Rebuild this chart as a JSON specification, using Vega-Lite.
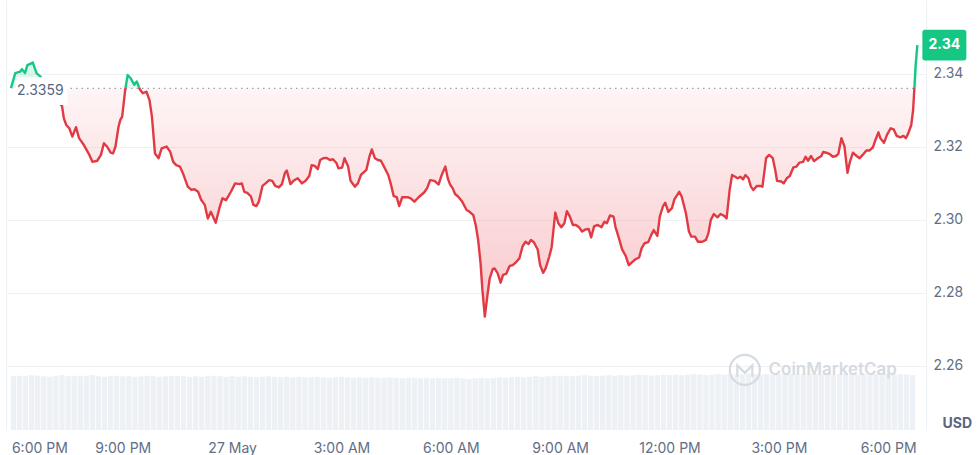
{
  "$schema": "https://vega.github.io/schema/vega-lite/v6.json",
  "width": 920,
  "height": 430,
  "autosize": {"type": "none"},
  "padding": {"left": 6, "top": 0, "right": 52, "bottom": 25},
  "background": "#ffffff",
  "config": {"view": {"stroke": null}, "font": "Inter"},
  "datasets": {
    "price": [
      {"t":"2024-05-26T17:56","p":2.3360},{"t":"2024-05-26T18:03","p":2.3401},{"t":"2024-05-26T18:11","p":2.3405},{"t":"2024-05-26T18:14","p":2.3412},{"t":"2024-05-26T18:19","p":2.3401},{"t":"2024-05-26T18:23","p":2.3423},{"t":"2024-05-26T18:32","p":2.3430},{"t":"2024-05-26T18:38","p":2.3401},{"t":"2024-05-26T18:45","p":2.3391},{"t":"2024-05-26T18:55","p":2.3360},{"t":"2024-05-26T19:08","p":2.3333},{"t":"2024-05-26T19:20","p":2.3311},{"t":"2024-05-26T19:23","p":2.3277},{"t":"2024-05-26T19:27","p":2.3259},{"t":"2024-05-26T19:32","p":2.3250},{"t":"2024-05-26T19:37","p":2.3227},{"t":"2024-05-26T19:43","p":2.3253},{"t":"2024-05-26T19:48","p":2.3223},{"t":"2024-05-26T19:56","p":2.3204},{"t":"2024-05-26T20:05","p":2.3177},{"t":"2024-05-26T20:10","p":2.3158},{"t":"2024-05-26T20:18","p":2.3161},{"t":"2024-05-26T20:24","p":2.3177},{"t":"2024-05-26T20:29","p":2.3209},{"t":"2024-05-26T20:34","p":2.3200},{"t":"2024-05-26T20:40","p":2.3183},{"t":"2024-05-26T20:44","p":2.3181},{"t":"2024-05-26T20:48","p":2.3200},{"t":"2024-05-26T20:53","p":2.3254},{"t":"2024-05-26T20:56","p":2.3273},{"t":"2024-05-26T20:59","p":2.3282},{"t":"2024-05-26T21:04","p":2.3355},{"t":"2024-05-26T21:08","p":2.3396},{"t":"2024-05-26T21:13","p":2.3387},{"t":"2024-05-26T21:19","p":2.3369},{"t":"2024-05-26T21:23","p":2.3378},{"t":"2024-05-26T21:28","p":2.3357},{"t":"2024-05-26T21:33","p":2.3346},{"t":"2024-05-26T21:39","p":2.3350},{"t":"2024-05-26T21:44","p":2.3327},{"t":"2024-05-26T21:48","p":2.3282},{"t":"2024-05-26T21:53","p":2.3181},{"t":"2024-05-26T21:59","p":2.3168},{"t":"2024-05-26T22:04","p":2.3195},{"t":"2024-05-26T22:12","p":2.3200},{"t":"2024-05-26T22:18","p":2.3186},{"t":"2024-05-26T22:23","p":2.3158},{"t":"2024-05-26T22:28","p":2.3149},{"t":"2024-05-26T22:34","p":2.3145},{"t":"2024-05-26T22:39","p":2.3127},{"t":"2024-05-26T22:47","p":2.3090},{"t":"2024-05-26T22:53","p":2.3081},{"t":"2024-05-26T22:58","p":2.3083},{"t":"2024-05-26T23:04","p":2.3076},{"t":"2024-05-26T23:09","p":2.3054},{"t":"2024-05-26T23:15","p":2.3040},{"t":"2024-05-26T23:20","p":2.3003},{"t":"2024-05-26T23:25","p":2.3021},{"t":"2024-05-26T23:33","p":2.2991},{"t":"2024-05-26T23:39","p":2.3031},{"t":"2024-05-26T23:44","p":2.3058},{"t":"2024-05-26T23:50","p":2.3053},{"t":"2024-05-26T23:58","p":2.3076},
      {"t":"2024-05-27T00:05","p":2.3099},{"t":"2024-05-27T00:12","p":2.3097},{"t":"2024-05-27T00:16","p":2.3099},{"t":"2024-05-27T00:20","p":2.3076},{"t":"2024-05-27T00:25","p":2.3073},{"t":"2024-05-27T00:31","p":2.3063},{"t":"2024-05-27T00:35","p":2.3040},{"t":"2024-05-27T00:40","p":2.3037},{"t":"2024-05-27T00:44","p":2.3049},{"t":"2024-05-27T00:50","p":2.3092},{"t":"2024-05-27T00:55","p":2.3099},{"t":"2024-05-27T01:01","p":2.3108},{"t":"2024-05-27T01:06","p":2.3106},{"t":"2024-05-27T01:11","p":2.3092},{"t":"2024-05-27T01:17","p":2.3088},{"t":"2024-05-27T01:22","p":2.3097},{"t":"2024-05-27T01:27","p":2.3128},{"t":"2024-05-27T01:30","p":2.3134},{"t":"2024-05-27T01:36","p":2.3097},{"t":"2024-05-27T01:41","p":2.3106},{"t":"2024-05-27T01:48","p":2.3113},{"t":"2024-05-27T01:55","p":2.3099},{"t":"2024-05-27T02:01","p":2.3106},{"t":"2024-05-27T02:07","p":2.3119},{"t":"2024-05-27T02:11","p":2.3149},{"t":"2024-05-27T02:16","p":2.3147},{"t":"2024-05-27T02:21","p":2.3138},{"t":"2024-05-27T02:25","p":2.3163},{"t":"2024-05-27T02:30","p":2.3168},{"t":"2024-05-27T02:35","p":2.3169},{"t":"2024-05-27T02:41","p":2.3163},{"t":"2024-05-27T02:46","p":2.3165},{"t":"2024-05-27T02:52","p":2.3154},{"t":"2024-05-27T02:55","p":2.3140},{"t":"2024-05-27T03:01","p":2.3142},{"t":"2024-05-27T03:05","p":2.3168},{"t":"2024-05-27T03:11","p":2.3145},{"t":"2024-05-27T03:15","p":2.3106},{"t":"2024-05-27T03:22","p":2.3090},{"t":"2024-05-27T03:27","p":2.3099},{"t":"2024-05-27T03:32","p":2.3122},{"t":"2024-05-27T03:41","p":2.3136},{"t":"2024-05-27T03:46","p":2.3172},{"t":"2024-05-27T03:50","p":2.3192},{"t":"2024-05-27T03:55","p":2.3168},{"t":"2024-05-27T04:00","p":2.3163},{"t":"2024-05-27T04:05","p":2.3161},{"t":"2024-05-27T04:10","p":2.3145},{"t":"2024-05-27T04:17","p":2.3122},{"t":"2024-05-27T04:21","p":2.3099},{"t":"2024-05-27T04:26","p":2.3064},{"t":"2024-05-27T04:31","p":2.3061},{"t":"2024-05-27T04:35","p":2.3037},{"t":"2024-05-27T04:40","p":2.3061},{"t":"2024-05-27T04:49","p":2.3061},{"t":"2024-05-27T04:54","p":2.3058},{"t":"2024-05-27T05:00","p":2.3049},{"t":"2024-05-27T05:07","p":2.3061},{"t":"2024-05-27T05:16","p":2.3074},{"t":"2024-05-27T05:21","p":2.3086},{"t":"2024-05-27T05:26","p":2.3108},{"t":"2024-05-27T05:33","p":2.3106},{"t":"2024-05-27T05:40","p":2.3096},{"t":"2024-05-27T05:45","p":2.3122},{"t":"2024-05-27T05:51","p":2.3145},{"t":"2024-05-27T05:55","p":2.3113},{"t":"2024-05-27T05:59","p":2.3095},{"t":"2024-05-27T06:03","p":2.3086},{"t":"2024-05-27T06:07","p":2.3070},{"t":"2024-05-27T06:12","p":2.3063},{"t":"2024-05-27T06:18","p":2.3051},{"t":"2024-05-27T06:26","p":2.3026},{"t":"2024-05-27T06:31","p":2.3021},{"t":"2024-05-27T06:37","p":2.3012},{"t":"2024-05-27T06:41","p":2.2985},{"t":"2024-05-27T06:45","p":2.2944},{"t":"2024-05-27T06:49","p":2.2880},{"t":"2024-05-27T06:52","p":2.2807},{"t":"2024-05-27T06:56","p":2.2734},{"t":"2024-05-27T07:00","p":2.2789},{"t":"2024-05-27T07:04","p":2.2839},{"t":"2024-05-27T07:09","p":2.2864},{"t":"2024-05-27T07:12","p":2.2866},{"t":"2024-05-27T07:17","p":2.2853},{"t":"2024-05-27T07:22","p":2.2827},{"t":"2024-05-27T07:26","p":2.2848},{"t":"2024-05-27T07:31","p":2.2851},{"t":"2024-05-27T07:37","p":2.2873},{"t":"2024-05-27T07:42","p":2.2875},{"t":"2024-05-27T07:48","p":2.2884},{"t":"2024-05-27T07:53","p":2.2894},{"t":"2024-05-27T07:58","p":2.2926},{"t":"2024-05-27T08:03","p":2.2939},{"t":"2024-05-27T08:08","p":2.2933},{"t":"2024-05-27T08:12","p":2.2944},{"t":"2024-05-27T08:17","p":2.2937},{"t":"2024-05-27T08:23","p":2.2918},{"t":"2024-05-27T08:27","p":2.2875},{"t":"2024-05-27T08:32","p":2.2854},{"t":"2024-05-27T08:36","p":2.2866},{"t":"2024-05-27T08:42","p":2.2898},{"t":"2024-05-27T08:46","p":2.2924},{"t":"2024-05-27T08:52","p":2.3019},{"t":"2024-05-27T08:57","p":2.2990},{"t":"2024-05-27T09:02","p":2.2979},{"t":"2024-05-27T09:07","p":2.2990},{"t":"2024-05-27T09:11","p":2.3023},{"t":"2024-05-27T09:16","p":2.3008},{"t":"2024-05-27T09:21","p":2.2985},{"t":"2024-05-27T09:26","p":2.2985},{"t":"2024-05-27T09:31","p":2.2979},{"t":"2024-05-27T09:36","p":2.2967},{"t":"2024-05-27T09:42","p":2.2973},{"t":"2024-05-27T09:47","p":2.2974},{"t":"2024-05-27T09:51","p":2.2951},{"t":"2024-05-27T09:56","p":2.2982},{"t":"2024-05-27T10:02","p":2.2985},{"t":"2024-05-27T10:08","p":2.2979},{"t":"2024-05-27T10:13","p":2.2994},{"t":"2024-05-27T10:17","p":2.2990},{"t":"2024-05-27T10:22","p":2.3011},{"t":"2024-05-27T10:28","p":2.3008},{"t":"2024-05-27T10:31","p":2.2980},{"t":"2024-05-27T10:36","p":2.2953},{"t":"2024-05-27T10:42","p":2.2918},{"t":"2024-05-27T10:48","p":2.2900},{"t":"2024-05-27T10:53","p":2.2875},{"t":"2024-05-27T10:59","p":2.2884},{"t":"2024-05-27T11:04","p":2.2891},{"t":"2024-05-27T11:10","p":2.2896},{"t":"2024-05-27T11:14","p":2.2921},{"t":"2024-05-27T11:19","p":2.2935},{"t":"2024-05-27T11:25","p":2.2938},{"t":"2024-05-27T11:30","p":2.2958},{"t":"2024-05-27T11:34","p":2.2971},{"t":"2024-05-27T11:40","p":2.2955},{"t":"2024-05-27T11:44","p":2.3008},{"t":"2024-05-27T11:49","p":2.3035},{"t":"2024-05-27T11:53","p":2.3046},{"t":"2024-05-27T11:58","p":2.3021},{"t":"2024-05-27T12:04","p":2.3031},{"t":"2024-05-27T12:08","p":2.3055},{"t":"2024-05-27T12:16","p":2.3076},{"t":"2024-05-27T12:20","p":2.3063},{"t":"2024-05-27T12:27","p":2.3017},{"t":"2024-05-27T12:32","p":2.2967},{"t":"2024-05-27T12:36","p":2.2953},{"t":"2024-05-27T12:42","p":2.2953},{"t":"2024-05-27T12:47","p":2.2939},{"t":"2024-05-27T12:54","p":2.2939},{"t":"2024-05-27T13:00","p":2.2944},{"t":"2024-05-27T13:04","p":2.2962},{"t":"2024-05-27T13:08","p":2.2999},{"t":"2024-05-27T13:13","p":2.3015},{"t":"2024-05-27T13:19","p":2.3006},{"t":"2024-05-27T13:24","p":2.3015},{"t":"2024-05-27T13:30","p":2.3010},{"t":"2024-05-27T13:34","p":2.3003},{"t":"2024-05-27T13:39","p":2.3081},{"t":"2024-05-27T13:43","p":2.3122},{"t":"2024-05-27T13:48","p":2.3117},{"t":"2024-05-27T13:52","p":2.3113},{"t":"2024-05-27T13:57","p":2.3117},{"t":"2024-05-27T14:01","p":2.3110},{"t":"2024-05-27T14:05","p":2.3122},{"t":"2024-05-27T14:10","p":2.3113},{"t":"2024-05-27T14:14","p":2.3090},{"t":"2024-05-27T14:18","p":2.3081},{"t":"2024-05-27T14:24","p":2.3092},{"t":"2024-05-27T14:29","p":2.3092},{"t":"2024-05-27T14:33","p":2.3090},{"t":"2024-05-27T14:39","p":2.3168},{"t":"2024-05-27T14:44","p":2.3177},{"t":"2024-05-27T14:50","p":2.3168},{"t":"2024-05-27T14:54","p":2.3136},{"t":"2024-05-27T14:57","p":2.3106},{"t":"2024-05-27T15:04","p":2.3104},{"t":"2024-05-27T15:08","p":2.3099},{"t":"2024-05-27T15:13","p":2.3113},{"t":"2024-05-27T15:18","p":2.3119},{"t":"2024-05-27T15:24","p":2.3143},{"t":"2024-05-27T15:29","p":2.3145},{"t":"2024-05-27T15:34","p":2.3156},{"t":"2024-05-27T15:40","p":2.3158},{"t":"2024-05-27T15:44","p":2.3172},{"t":"2024-05-27T15:48","p":2.3161},{"t":"2024-05-27T15:53","p":2.3174},{"t":"2024-05-27T15:58","p":2.3160},{"t":"2024-05-27T16:04","p":2.3168},{"t":"2024-05-27T16:10","p":2.3174},{"t":"2024-05-27T16:13","p":2.3185},{"t":"2024-05-27T16:18","p":2.3183},{"t":"2024-05-27T16:23","p":2.3180},{"t":"2024-05-27T16:29","p":2.3172},{"t":"2024-05-27T16:34","p":2.3174},{"t":"2024-05-27T16:38","p":2.3180},{"t":"2024-05-27T16:43","p":2.3223},{"t":"2024-05-27T16:48","p":2.3200},{"t":"2024-05-27T16:53","p":2.3128},{"t":"2024-05-27T16:57","p":2.3158},{"t":"2024-05-27T17:02","p":2.3183},{"t":"2024-05-27T17:08","p":2.3174},{"t":"2024-05-27T17:13","p":2.3168},{"t":"2024-05-27T17:18","p":2.3177},{"t":"2024-05-27T17:24","p":2.3189},{"t":"2024-05-27T17:29","p":2.3189},{"t":"2024-05-27T17:35","p":2.3198},{"t":"2024-05-27T17:39","p":2.3218},{"t":"2024-05-27T17:44","p":2.3239},{"t":"2024-05-27T17:47","p":2.3223},{"t":"2024-05-27T17:53","p":2.3210},{"t":"2024-05-27T17:58","p":2.3232},{"t":"2024-05-27T18:04","p":2.3250},{"t":"2024-05-27T18:09","p":2.3247},{"t":"2024-05-27T18:14","p":2.3229},{"t":"2024-05-27T18:20","p":2.3225},{"t":"2024-05-27T18:25","p":2.3229},{"t":"2024-05-27T18:29","p":2.3223},{"t":"2024-05-27T18:33","p":2.3236},{"t":"2024-05-27T18:38","p":2.3259},{"t":"2024-05-27T18:41","p":2.3300},{"t":"2024-05-27T18:43","p":2.3357},{"t":"2024-05-27T18:45","p":2.3419},{"t":"2024-05-27T18:48","p":2.3478}
    ],
    "vol": [
      {"t":"2024-05-26T18:00","v":100},{"t":"2024-05-26T18:10","v":101},{"t":"2024-05-26T18:20","v":100},{"t":"2024-05-26T18:30","v":102},{"t":"2024-05-26T18:40","v":101},{"t":"2024-05-26T18:50","v":100},
      {"t":"2024-05-26T19:00","v":99},{"t":"2024-05-26T19:10","v":101},{"t":"2024-05-26T19:20","v":102},{"t":"2024-05-26T19:30","v":100},{"t":"2024-05-26T19:40","v":101},{"t":"2024-05-26T19:50","v":100},
      {"t":"2024-05-26T20:00","v":101},{"t":"2024-05-26T20:10","v":102},{"t":"2024-05-26T20:20","v":100},{"t":"2024-05-26T20:30","v":99},{"t":"2024-05-26T20:40","v":100},{"t":"2024-05-26T20:50","v":101},
      {"t":"2024-05-26T21:00","v":100},{"t":"2024-05-26T21:10","v":100},{"t":"2024-05-26T21:20","v":99},{"t":"2024-05-26T21:30","v":100},{"t":"2024-05-26T21:40","v":101},{"t":"2024-05-26T21:50","v":100},
      {"t":"2024-05-26T22:00","v":99},{"t":"2024-05-26T22:10","v":100},{"t":"2024-05-26T22:20","v":100},{"t":"2024-05-26T22:30","v":101},{"t":"2024-05-26T22:40","v":100},{"t":"2024-05-26T22:50","v":99},
      {"t":"2024-05-26T23:00","v":100},{"t":"2024-05-26T23:10","v":99},{"t":"2024-05-26T23:20","v":100},{"t":"2024-05-26T23:30","v":101},{"t":"2024-05-26T23:40","v":100},{"t":"2024-05-26T23:50","v":99},
      {"t":"2024-05-27T00:00","v":100},{"t":"2024-05-27T00:10","v":99},{"t":"2024-05-27T00:20","v":100},{"t":"2024-05-27T00:30","v":99},{"t":"2024-05-27T00:40","v":98},{"t":"2024-05-27T00:50","v":99},
      {"t":"2024-05-27T01:00","v":100},{"t":"2024-05-27T01:10","v":99},{"t":"2024-05-27T01:20","v":98},{"t":"2024-05-27T01:30","v":99},{"t":"2024-05-27T01:40","v":98},{"t":"2024-05-27T01:50","v":99},
      {"t":"2024-05-27T02:00","v":98},{"t":"2024-05-27T02:10","v":98},{"t":"2024-05-27T02:20","v":99},{"t":"2024-05-27T02:30","v":98},{"t":"2024-05-27T02:40","v":97},{"t":"2024-05-27T02:50","v":98},
      {"t":"2024-05-27T03:00","v":99},{"t":"2024-05-27T03:10","v":98},{"t":"2024-05-27T03:20","v":97},{"t":"2024-05-27T03:30","v":98},{"t":"2024-05-27T03:40","v":97},{"t":"2024-05-27T03:50","v":98},
      {"t":"2024-05-27T04:00","v":97},{"t":"2024-05-27T04:10","v":97},{"t":"2024-05-27T04:20","v":98},{"t":"2024-05-27T04:30","v":97},{"t":"2024-05-27T04:40","v":96},{"t":"2024-05-27T04:50","v":97},
      {"t":"2024-05-27T05:00","v":97},{"t":"2024-05-27T05:10","v":96},{"t":"2024-05-27T05:20","v":97},{"t":"2024-05-27T05:30","v":96},{"t":"2024-05-27T05:40","v":97},{"t":"2024-05-27T05:50","v":96},
      {"t":"2024-05-27T06:00","v":96},{"t":"2024-05-27T06:10","v":97},{"t":"2024-05-27T06:20","v":96},{"t":"2024-05-27T06:30","v":95},{"t":"2024-05-27T06:40","v":96},{"t":"2024-05-27T06:50","v":97},
      {"t":"2024-05-27T07:00","v":96},{"t":"2024-05-27T07:10","v":97},{"t":"2024-05-27T07:20","v":98},{"t":"2024-05-27T07:30","v":97},{"t":"2024-05-27T07:40","v":98},{"t":"2024-05-27T07:50","v":99},
      {"t":"2024-05-27T08:00","v":98},{"t":"2024-05-27T08:10","v":99},{"t":"2024-05-27T08:20","v":100},{"t":"2024-05-27T08:30","v":99},{"t":"2024-05-27T08:40","v":100},{"t":"2024-05-27T08:50","v":101},
      {"t":"2024-05-27T09:00","v":100},{"t":"2024-05-27T09:10","v":101},{"t":"2024-05-27T09:20","v":100},{"t":"2024-05-27T09:30","v":101},{"t":"2024-05-27T09:40","v":102},{"t":"2024-05-27T09:50","v":101},
      {"t":"2024-05-27T10:00","v":100},{"t":"2024-05-27T10:10","v":101},{"t":"2024-05-27T10:20","v":102},{"t":"2024-05-27T10:30","v":101},{"t":"2024-05-27T10:40","v":102},{"t":"2024-05-27T10:50","v":101},
      {"t":"2024-05-27T11:00","v":102},{"t":"2024-05-27T11:10","v":103},{"t":"2024-05-27T11:20","v":102},{"t":"2024-05-27T11:30","v":101},{"t":"2024-05-27T11:40","v":102},{"t":"2024-05-27T11:50","v":103},
      {"t":"2024-05-27T12:00","v":102},{"t":"2024-05-27T12:10","v":103},{"t":"2024-05-27T12:20","v":102},{"t":"2024-05-27T12:30","v":103},{"t":"2024-05-27T12:40","v":104},{"t":"2024-05-27T12:50","v":103},
      {"t":"2024-05-27T13:00","v":102},{"t":"2024-05-27T13:10","v":103},{"t":"2024-05-27T13:20","v":104},{"t":"2024-05-27T13:30","v":103},{"t":"2024-05-27T13:40","v":104},{"t":"2024-05-27T13:50","v":103},
      {"t":"2024-05-27T14:00","v":104},{"t":"2024-05-27T14:10","v":105},{"t":"2024-05-27T14:20","v":104},{"t":"2024-05-27T14:30","v":103},{"t":"2024-05-27T14:40","v":104},{"t":"2024-05-27T14:50","v":103},
      {"t":"2024-05-27T15:00","v":104},{"t":"2024-05-27T15:10","v":105},{"t":"2024-05-27T15:20","v":104},{"t":"2024-05-27T15:30","v":103},{"t":"2024-05-27T15:40","v":104},{"t":"2024-05-27T15:50","v":105},
      {"t":"2024-05-27T16:00","v":104},{"t":"2024-05-27T16:10","v":103},{"t":"2024-05-27T16:20","v":104},{"t":"2024-05-27T16:30","v":103},{"t":"2024-05-27T16:40","v":104},{"t":"2024-05-27T16:50","v":105},
      {"t":"2024-05-27T17:00","v":104},{"t":"2024-05-27T17:10","v":103},{"t":"2024-05-27T17:20","v":104},{"t":"2024-05-27T17:30","v":103},{"t":"2024-05-27T17:40","v":104},{"t":"2024-05-27T17:50","v":103},
      {"t":"2024-05-27T18:00","v":104},{"t":"2024-05-27T18:10","v":103},{"t":"2024-05-27T18:20","v":104},{"t":"2024-05-27T18:30","v":103},{"t":"2024-05-27T18:40","v":102}
    ]
  },
  "encoding": {
    "x": {
      "field": "t",
      "type": "temporal",
      "scale": {"domain": [
        {"year": 2024, "month": 5, "date": 26, "hours": 17, "minutes": 56},
        {"year": 2024, "month": 5, "date": 27, "hours": 18, "minutes": 54}
      ]},
      "axis": {
        "title": null,
        "orient": "bottom",
        "domain": false,
        "ticks": false,
        "grid": false,
        "values": [
          {"year": 2024, "month": 5, "date": 26, "hours": 18},
          {"year": 2024, "month": 5, "date": 26, "hours": 21},
          {"year": 2024, "month": 5, "date": 27, "hours": 0},
          {"year": 2024, "month": 5, "date": 27, "hours": 3},
          {"year": 2024, "month": 5, "date": 27, "hours": 6},
          {"year": 2024, "month": 5, "date": 27, "hours": 9},
          {"year": 2024, "month": 5, "date": 27, "hours": 12},
          {"year": 2024, "month": 5, "date": 27, "hours": 15},
          {"year": 2024, "month": 5, "date": 27, "hours": 18}
        ],
        "labelExpr": "hours(datum.value) === 0 ? timeFormat(datum.value, '%-d %b') : timeFormat(datum.value, '%-I:%M %p')",
        "labelFlush": 10,
        "labelFlushOffset": 2,
        "labelOverlap": false,
        "labelPadding": 11,
        "labelFont": "Inter",
        "labelFontSize": 14,
        "labelColor": "#616e85"
      }
    }
  },
  "layer": [
    {
      "data": {"name": "vol"},
      "mark": {"type": "bar", "width": 5.3, "color": "#edf0f4"},
      "encoding": {
        "y": {
          "field": "v",
          "type": "quantitative",
          "scale": {"domain": [0, 800]},
          "axis": {"orient": "left", "title": null, "labels": false, "ticks": false, "grid": false, "domain": true, "domainColor": "#eff2f5", "domainWidth": 1}
        }
      }
    },
    {
      "encoding": {
        "y": {
          "field": "p",
          "type": "quantitative",
          "scale": {"domain": [2.24233, 2.36014], "zero": false, "nice": false},
          "axis": {
            "orient": "right",
            "values": [2.26, 2.28, 2.30, 2.32, 2.34],
            "format": ".2f",
            "grid": true,
            "gridColor": "#eff2f5",
            "gridWidth": 1,
            "domain": true,
            "domainColor": "#eff2f5",
            "ticks": false,
            "labelPadding": 7,
            "labelFont": "Inter",
            "labelFontSize": 14,
            "labelColor": "#616e85",
            "title": "USD",
            "titleAngle": 0,
            "titleX": 16,
            "titleY": 423,
            "titleAlign": "left",
            "titleBaseline": "middle",
            "titleFont": "Inter",
            "titleFontSize": 14,
            "titleFontWeight": "bold",
            "titleColor": "#58667e"
          }
        }
      },
      "layer": [
        {
          "data": {"values": [{"t": "2024-05-27T14:43", "p": 2.2588, "label": "CoinMarketCap"}]},
          "mark": {"type": "text", "align": "left", "baseline": "middle", "font": "Inter", "fontSize": 17, "fontWeight": 600, "color": "#d6dae1"},
          "encoding": {"text": {"field": "label"}}
        },
        {
          "data": {"values": [{"t": "2024-05-27T14:04", "p": 2.2588}]},
          "mark": {"type": "point", "filled": false, "shape": "M1,0A1,1 0 1,1 -1,0A1,1 0 1,1 1,0Z M-0.5,0.45L-0.5,-0.3L0,0.2L0.5,-0.3L0.5,0.45", "size": 900, "stroke": "#d6dae1", "strokeWidth": 2.2, "opacity": 1}
        },
        {
          "data": {"name": "price"},
          "mark": {
            "type": "area",
            "line": false,
            "fill": {
              "gradient": "linear", "x1": 0, "y1": 0, "x2": 0, "y2": 1,
              "stops": [
                {"offset": 0, "color": "rgba(22,199,132,0.22)"},
                {"offset": 0.16, "color": "rgba(22,199,132,0.10)"},
                {"offset": 0.16, "color": "rgba(234,57,67,0.05)"},
                {"offset": 1, "color": "rgba(234,57,67,0.28)"}
              ]
            }
          },
          "encoding": {"y2": {"datum": 2.3359}}
        },
        {
          "data": {"values": [{"t": "2024-05-26T19:34", "t2": "2024-05-27T18:44", "p": 2.3359}]},
          "mark": {"type": "rule", "stroke": "#9aa3b3", "strokeWidth": 1.2, "strokeDash": [1.5, 4]},
          "encoding": {"x2": {"field": "t2"}}
        },
        {
          "data": {"name": "price"},
          "mark": {
            "type": "line",
            "strokeWidth": 2.4,
            "strokeJoin": "round",
            "stroke": {
              "gradient": "linear", "x1": 0, "y1": 0, "x2": 0, "y2": 1,
              "stops": [
                {"offset": 0, "color": "#16c784"},
                {"offset": 0.16, "color": "#16c784"},
                {"offset": 0.16, "color": "#e23a44"},
                {"offset": 1, "color": "#e23a44"}
              ]
            }
          }
        },
        {
          "data": {"values": [{"t": "2024-05-26T18:04", "t2": "2024-05-26T19:29", "p": 2.3390, "p2": 2.3314}]},
          "mark": {"type": "rect", "color": "#ffffff"},
          "encoding": {"x2": {"field": "t2"}, "y2": {"field": "p2"}}
        },
        {
          "data": {"values": [{"t": "2024-05-26T17:56", "p": 2.3359, "label": "2.3359"}]},
          "mark": {"type": "text", "align": "left", "baseline": "middle", "dx": 6, "dy": 3, "font": "Inter", "fontSize": 14, "color": "#58667e"},
          "encoding": {"text": {"field": "label"}}
        },
        {
          "data": {"values": [{"t": "2024-05-27T18:48", "p": 2.3478, "label": "2.34"}]},
          "mark": {"type": "point", "filled": true, "shape": "M-0.88,-0.7H0.88Q1,-0.7 1,-0.58V0.58Q1,0.7 0.88,0.7H-0.88Q-1,0.7 -1,0.58V-0.58Q-1,-0.7 -0.88,-0.7Z", "size": 1936, "color": "#16c784", "opacity": 1, "xOffset": 27}
        },
        {
          "data": {"values": [{"t": "2024-05-27T18:48", "p": 2.3478, "label": "2.34"}]},
          "mark": {"type": "text", "align": "center", "baseline": "middle", "dx": 27, "font": "Inter", "fontSize": 14, "fontWeight": "bold", "color": "#ffffff"},
          "encoding": {"text": {"field": "label"}}
        }
      ]
    }
  ],
  "resolve": {"scale": {"y": "independent"}}
}
